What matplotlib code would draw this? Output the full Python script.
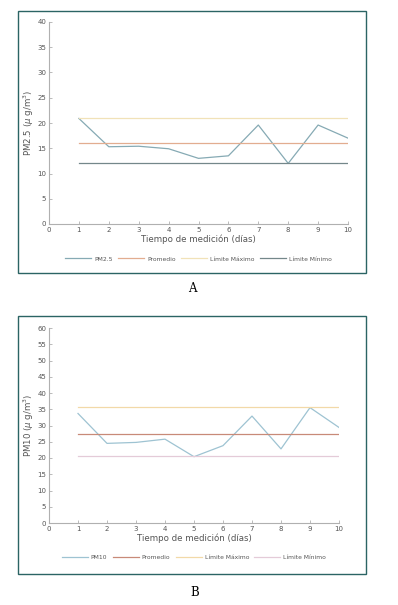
import matplotlib
matplotlib.use("Agg")
import matplotlib.pyplot as plt
from matplotlib.patches import Rectangle

days = [1, 2, 3, 4, 5, 6, 7, 8, 9, 10]
pm25 = [20.9, 15.3, 15.4, 14.9, 13.0, 13.5, 19.6, 12.0, 19.6, 17.0]
pm25_prom = 16.1
pm25_max = 21.0
pm25_min = 12.0

pm10 = [33.7, 24.5, 24.8, 25.8, 20.4, 23.8, 32.9, 22.8, 35.5, 29.4]
pm10_prom = 27.3
pm10_max = 35.6
pm10_min = 20.5

xticks = list(range(0, 11))
labels_a = ["PM2.5", "Promedio", "Límite Máximo", "Límite Mínimo"]
labels_b = ["PM10", "Promedio", "Límite Máximo", "Límite Mínimo"]

W, H = 398, 605
fig = plt.figure(figsize=(W / 100, H / 100), dpi=100)
fig.patch.set_facecolor("white")

def frac(l, t, r, b):
    return [l / W, (H - b) / H, (r - l) / W, (b - t) / H]

frame_col = "#2b6464"
for (l, t, r, b) in [(18, 11, 366, 273), (18, 316, 366, 574)]:
    x0, y0, w, h = frac(l, t, r, b)
    fig.patches.append(Rectangle((x0, y0), w, h, transform=fig.transFigure,
                                 fill=False, edgecolor=frame_col, linewidth=1.0))

def panel(rect, series, prom, vmax, vmin, ymax, ylabel, labels, colors, legend_y):
    ax = fig.add_axes(frac(*rect))
    n = len(days)
    ax.plot(days, series, color=colors[0], lw=0.9, label=labels[0])
    ax.plot(days, [prom] * n, color=colors[1], lw=0.9, label=labels[1])
    ax.plot(days, [vmax] * n, color=colors[2], lw=0.9, label=labels[2])
    ax.plot(days, [vmin] * n, color=colors[3], lw=0.9, label=labels[3])
    ax.set_xlim(0, 10)
    ax.set_ylim(0, ymax)
    ax.set_xticks(xticks)
    ax.set_yticks(list(range(0, ymax + 1, 5)))
    for s in ["top", "right"]:
        ax.spines[s].set_visible(False)
    for s in ["left", "bottom"]:
        ax.spines[s].set_color("#b0b0b0")
        ax.spines[s].set_linewidth(0.8)
    ax.tick_params(direction="in", length=2, width=0.6, colors="#b0b0b0",
                   labelcolor="#555555", labelsize=5, pad=2)
    ax.set_xlabel("Tiempo de medición (días)", fontsize=6.2, color="#555555", labelpad=1)
    ax.set_ylabel(ylabel, fontsize=6.2, color="#555555", labelpad=1)
    ax.legend(loc="center", bbox_to_anchor=(0.5, legend_y), ncol=4, frameon=False,
              fontsize=4.3, handlelength=4.35, columnspacing=0.9, handletextpad=0.5,
              labelcolor="#555555")
    return ax

panel((49, 22, 348, 224), pm25, pm25_prom, pm25_max, pm25_min, 40,
      "PM2.5 ($\\mu$ g/m$^3$)", labels_a,
      ["#86aab4", "#e2ad90", "#f1e2b8", "#74878a"], -0.173)
panel((49, 328, 339, 523), pm10, pm10_prom, pm10_max, pm10_min, 60,
      "PM10 ($\\mu$ g/m$^3$)", labels_b,
      ["#9ec3d2", "#c88a78", "#f2d9a8", "#e4cbd8"], -0.178)

fig.text(192 / W, 1 - 288 / H, "A", ha="center", va="center", fontsize=8.5,
         family="DejaVu Serif")
fig.text(195 / W, 1 - 593 / H, "B", ha="center", va="center", fontsize=8.5,
         family="DejaVu Serif")

fig.savefig("out.png", dpi=100, facecolor="white")
